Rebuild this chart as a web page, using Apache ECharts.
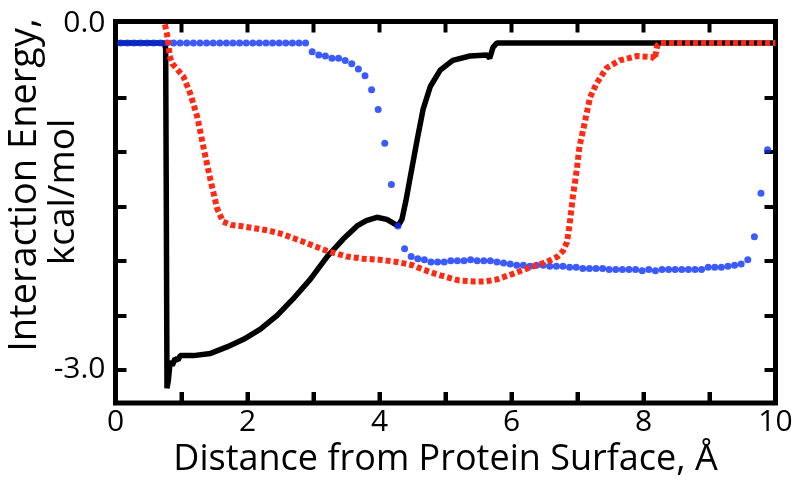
<!DOCTYPE html>
<html><head><meta charset="utf-8">
<script src="https://cdn.jsdelivr.net/npm/echarts@6/dist/echarts.min.js"></script>
<style>html,body{margin:0;padding:0;background:#fff}#c{width:800px;height:483px}</style>
</head><body><div id="c"></div>
<script>
// ---- axis ticks / labels ----
const xTickValues = [0,1,2,3,4,5,6,7,8,9,10];
const xLabelValues = [0,2,4,6,8,10];
const yTickValues = [-3.0,-2.5,-2.0,-1.5,-1.0,-0.5,0.0];
const yLabelValues = [-3.0, 0.18];          // "0.0" label sits at the top edge in the original
const yLabelTexts = ['-3.0', '0.0'];
const xTitle = 'Distance from Protein Surface, Å';
const yTitle1 = 'Interaction Energy,';
const yTitle2 = 'kcal/mol';

// ---- black series (solid line) ----
const blackX = [0, 0.74, 0.76, 0.77, 0.78, 0.80, 0.83, 0.86, 0.90, 0.95, 0.98, 1.18, 1.44, 1.69, 1.94, 2.19, 2.45, 2.69, 2.95, 3.21, 3.45, 3.66, 3.80, 3.96, 4.11, 4.28, 4.34, 4.40, 4.46, 4.57, 4.66, 4.77, 4.92, 5.11, 5.37, 5.63, 5.67, 5.72, 5.78, 10];
const blackY = [0, 0, -0.05, -1.5, -3.17, -3.10, -2.92, -2.96, -2.90, -2.91, -2.87, -2.87, -2.85, -2.79, -2.72, -2.63, -2.50, -2.35, -2.17, -1.96, -1.80, -1.68, -1.63, -1.60, -1.62, -1.68, -1.62, -1.45, -1.25, -0.89, -0.61, -0.40, -0.25, -0.16, -0.12, -0.11, -0.14, -0.04, 0, 0];

// ---- red series (dotted squares) ----
const redX = [0.75, 0.78, 0.80, 0.82, 0.86, 0.92, 1.03, 1.13, 1.24, 1.33, 1.44, 1.54, 1.63, 1.75, 1.89, 2.10, 2.30, 2.50, 2.69, 2.95, 3.21, 3.50, 3.75, 4.00, 4.26, 4.50, 4.66, 4.85, 5.02, 5.20, 5.42, 5.60, 5.78, 6.02, 6.28, 6.54, 6.70, 6.78, 6.84, 6.88, 6.93, 6.99, 7.03, 7.11, 7.19, 7.29, 7.44, 7.64, 7.90, 8.14, 8.17, 8.21, 8.25, 10];
const redY = [0.17, 0.08, 0.0, -0.12, -0.19, -0.23, -0.31, -0.46, -0.68, -0.95, -1.26, -1.52, -1.64, -1.67, -1.68, -1.70, -1.72, -1.75, -1.79, -1.85, -1.91, -1.96, -1.98, -1.99, -2.01, -2.04, -2.08, -2.12, -2.15, -2.18, -2.19, -2.19, -2.17, -2.12, -2.06, -2.01, -1.96, -1.91, -1.83, -1.67, -1.41, -1.16, -0.95, -0.73, -0.50, -0.37, -0.23, -0.16, -0.12, -0.13, -0.15, -0.02, 0, 0];

// ---- blue series (round dots) ----
const blueX = [0.08,0.18,0.28,0.38,0.48,0.58,0.68,0.78,0.88,0.98,
  1.08,1.18,1.28,1.38,1.48,1.58,1.68,1.78,1.88,1.98,
  2.08,2.18,2.28,2.38,2.48,2.58,2.68,2.78,2.88,2.98,
  3.08,3.18,3.28,3.38,3.48,3.58,3.68,3.78,3.88,3.98,
  4.08,4.18,4.28,4.38,4.48,4.58,4.68,4.78,4.88,4.98,
  5.08,5.18,5.28,5.38,5.48,5.58,5.68,5.78,5.88,5.98,
  6.08,6.18,6.28,6.38,6.48,6.58,6.68,6.78,6.88,6.98,
  7.08,7.18,7.28,7.38,7.48,7.58,7.68,7.78,7.88,7.98,
  8.08,8.18,8.28,8.38,8.48,8.58,8.68,8.78,8.88,8.98,
  9.08,9.18,9.28,9.38,9.48,9.58,9.68,9.78,9.88];
const blueY = [0,0,0,0,0,0,0,0,0,0,
  0,0,0,0,0,0,0,0,0,0,
  0,0,0,0,0,0,0,0,0,-0.08,
  -0.11,-0.12,-0.14,-0.14,-0.16,-0.19,-0.24,-0.30,-0.43,-0.61,
  -0.92,-1.30,-1.68,-1.89,-1.96,-1.98,-1.99,-2.01,-2.01,-2.01,
  -2.00,-2.00,-2.00,-1.99,-2.00,-2.00,-2.00,-2.01,-2.02,-2.03,
  -2.04,-2.04,-2.05,-2.04,-2.04,-2.05,-2.05,-2.05,-2.06,-2.06,
  -2.07,-2.07,-2.07,-2.07,-2.08,-2.08,-2.08,-2.08,-2.08,-2.09,
  -2.08,-2.09,-2.08,-2.08,-2.08,-2.08,-2.08,-2.08,-2.08,-2.06,
  -2.06,-2.06,-2.05,-2.04,-2.03,-1.99,-1.78,-1.38,-0.98];

const zip = (xs, ys) => xs.map((x, i) => [x, ys[i]]);

const FONT = 'Open Sans';
const X_MIN = 0, X_MAX = 10, Y_MIN = -3.306, Y_MAX = 0.197;
const G = { left: 115.5, right: 24.5, top: 21.5, bottom: 78.5 };
const TICK_LEN = 11, TICK_W = 4;
const mkTick = vals => ({ show: true, inside: true, length: TICK_LEN, customValues: vals, lineStyle: { color: '#000', width: TICK_W } });

// interior x tick positions (0 and 10 coincide with the frame)
const xInnerTicks = xTickValues.slice(1, -1);

const chart = echarts.init(document.getElementById('c'), null, { renderer: 'canvas' });
chart.setOption({
  animation: false,
  backgroundColor: '#fff',
  grid: Object.assign({ show: true, borderWidth: 5, borderColor: '#000', backgroundColor: 'transparent' }, G),
  xAxis: [{
    type: 'value', position: 'bottom', min: X_MIN, max: X_MAX,
    axisLine: { show: false, onZero: false }, splitLine: { show: false },
    axisTick: mkTick(xTickValues),
    axisLabel: { customValues: xLabelValues, margin: 4, color: '#000', fontFamily: FONT, fontSize: 30 },
    name: xTitle, nameLocation: 'middle', nameGap: 30,
    nameTextStyle: { color: '#000', fontFamily: FONT, fontSize: 36 }
  }],
  yAxis: [{
    type: 'value', position: 'left', min: Y_MIN, max: Y_MAX,
    axisLine: { show: false, onZero: false }, splitLine: { show: false },
    axisTick: mkTick(yTickValues),
    axisLabel: { customValues: yLabelValues, margin: 10, color: '#000', fontFamily: FONT, fontSize: 30,
      formatter: v => yLabelTexts[v < -1 ? 0 : 1] }
  }, {
    type: 'value', position: 'right', min: Y_MIN, max: Y_MAX,
    axisLine: { show: false, onZero: false }, splitLine: { show: false },
    axisTick: mkTick(yTickValues),
    axisLabel: { show: false }
  }],
  graphic: [
    { type: 'text', x: 25, y: 185, rotation: Math.PI / 2,
      style: { text: yTitle1, fontFamily: FONT, fontSize: 38, fill: '#000', align: 'center', verticalAlign: 'middle' } },
    { type: 'text', x: 63, y: 192, rotation: Math.PI / 2,
      style: { text: yTitle2, fontFamily: FONT, fontSize: 37, fill: '#000', align: 'center', verticalAlign: 'middle' } }
  ],
  series: [
    { type: 'line', data: zip(blackX, blackY), showSymbol: false, symbol: 'none', z: 2,
      lineStyle: { color: '#000', width: 5.5 } },
    { type: 'scatter', data: zip(blueX, blueY), symbol: 'circle', symbolSize: 7, z: 3,
      itemStyle: { color: '#0a32ff' } },
    { type: 'line', data: zip(redX, redY), showSymbol: false, symbol: 'none', z: 4,
      lineStyle: { color: '#ff2a14', width: 6, type: [5, 3], cap: 'butt' } },
    // x tick marks on the bottom and top frame edges, positioned through the axis scales
    { type: 'custom', silent: true, clip: false, z: 10,
      data: xInnerTicks.map(k => [k, Y_MIN]),
      encode: { x: 0, y: 1 },
      renderItem: (params, api) => {
        const bottom = api.coord([api.value(0), Y_MIN]);
        const top = api.coord([api.value(0), Y_MAX]);
        return { type: 'group', children: [
          { type: 'rect', shape: { x: bottom[0] - TICK_W / 2, y: bottom[1] - TICK_LEN, width: TICK_W, height: TICK_LEN }, style: { fill: '#000' } },
          { type: 'rect', shape: { x: top[0] - TICK_W / 2, y: top[1], width: TICK_W, height: TICK_LEN }, style: { fill: '#000' } }
        ] };
      } }
  ]
});
</script></body></html>
